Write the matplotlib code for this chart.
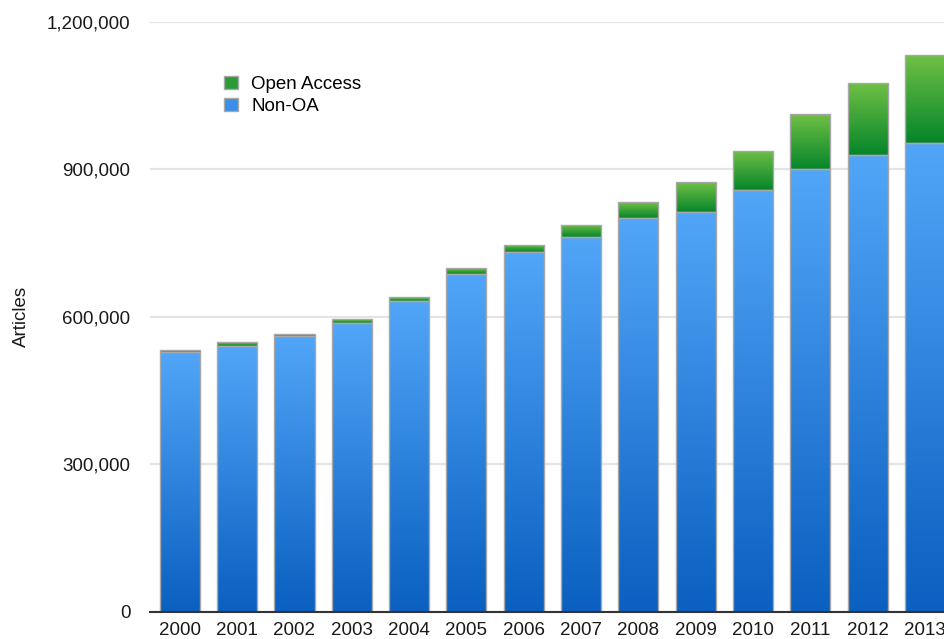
import numpy as np
import matplotlib
matplotlib.use('Agg')
import matplotlib.pyplot as plt
from matplotlib.colors import LinearSegmentedColormap
from matplotlib.patches import Patch
from matplotlib.ticker import FuncFormatter

years = ['2000', '2001', '2002', '2003', '2004', '2005', '2006',
         '2007', '2008', '2009', '2010', '2011', '2012', '2013']
non_oa = [529000, 541000, 560000, 588000, 633000, 688000, 731000,
          762000, 802000, 814000, 857000, 901000, 929000, 953000]
open_access = [4000, 7000, 4000, 7000, 7000, 11000, 16000,
               25000, 32000, 60000, 80000, 111000, 147000, 179000]

plt.rcParams['font.family'] = ['Liberation Sans', 'DejaVu Sans']

blue_cmap = LinearSegmentedColormap.from_list('blue', ['#0a5fc0', '#52a6f8'])
green_cmap = LinearSegmentedColormap.from_list('green', ['#05852a', '#70c045'])


def fill_gradient(ax, bars, cmap):
    grad = np.linspace(0, 1, 256).reshape(-1, 1)
    for b in bars:
        x0, y0 = b.get_x(), b.get_y()
        w, h = b.get_width(), b.get_height()
        im = ax.imshow(grad, extent=(x0, x0 + w, y0, y0 + h), origin='lower',
                       cmap=cmap, aspect='auto', zorder=2.5, interpolation='bilinear')
        im.set_clip_path(b)
        b.set_facecolor('none')


fig = plt.figure(figsize=(9.45, 6.39), dpi=100)
ax = fig.add_axes([150 / 945, 27.5 / 639, 795 / 945, 589.5 / 639])

x = np.arange(len(years))
b1 = ax.bar(x, non_oa, width=0.7, edgecolor='#a8a8a8', linewidth=1, zorder=3)
b2 = ax.bar(x, open_access, bottom=non_oa, width=0.7, edgecolor='#a8a8a8', linewidth=1, zorder=3)
fill_gradient(ax, b1, blue_cmap)
fill_gradient(ax, b2, green_cmap)

ax.set_xlim(-0.52, 13.35)
ax.set_ylim(0, 1200000)
ax.set_yticks([0, 300000, 600000, 900000, 1200000])
ax.yaxis.set_major_formatter(FuncFormatter(lambda v, p: f'{int(v):,}'))
ax.set_xticks(x)
ax.set_xticklabels(years)

ax.yaxis.grid(True, color='#e4e4e4', linewidth=1.6)
ax.set_axisbelow(True)
for s in ['top', 'right', 'left']:
    ax.spines[s].set_visible(False)
ax.spines['bottom'].set_color('#333333')
ax.spines['bottom'].set_linewidth(1.5)
ax.spines['bottom'].set_zorder(4)
ax.tick_params(axis='both', length=0, labelsize=13.5, colors='#1a1a1a')
ax.tick_params(axis='y', pad=14)
ax.tick_params(axis='x', pad=7.5)

ax.set_ylabel('Articles', fontsize=13.5, color='#1a1a1a')
ax.yaxis.set_label_coords(-0.151, 0.5)

handles = [Patch(facecolor='#2b9b36', edgecolor='#a8a8a8', label='Open Access'),
           Patch(facecolor='#3b8fe8', edgecolor='#a8a8a8', label='Non-OA')]
ax.legend(handles=handles, loc='upper left', bbox_to_anchor=(0.093, 0.909),
          frameon=False, fontsize=13.5, handlelength=0.75, handleheight=0.75,
          handletextpad=0.7, labelspacing=0.25, borderpad=0, borderaxespad=0)

plt.savefig('out.png', dpi=100)
